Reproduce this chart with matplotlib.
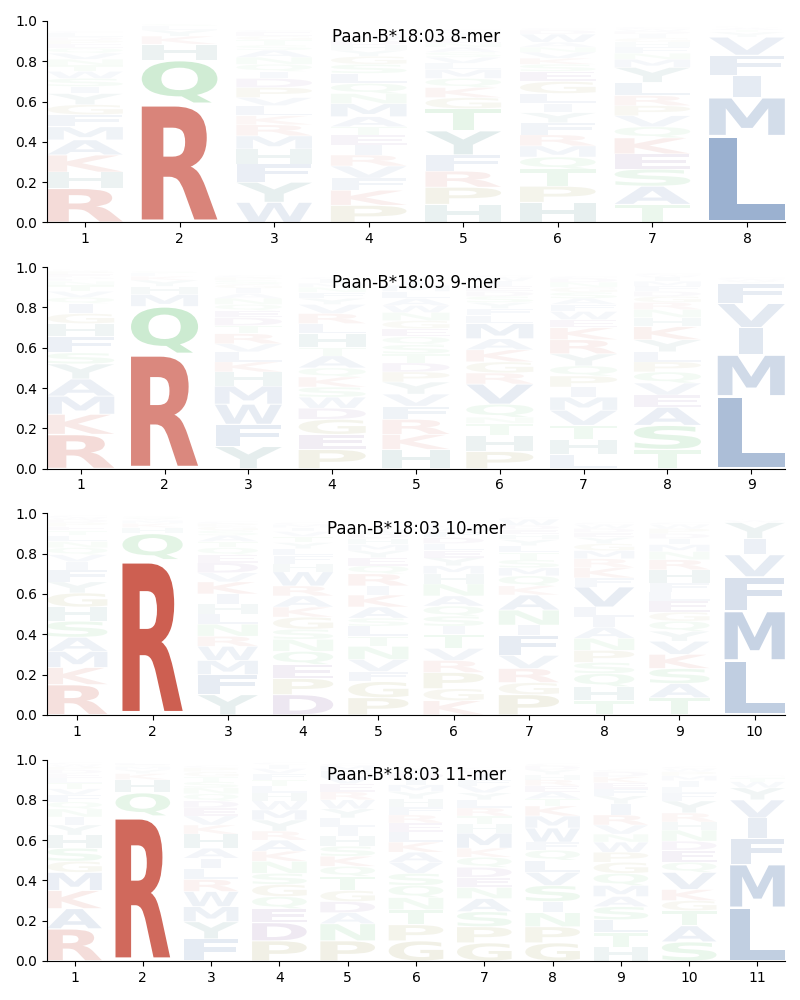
import matplotlib
matplotlib.use("Agg")
import matplotlib.pyplot as plt
from matplotlib.textpath import TextPath
from matplotlib.patches import PathPatch
from matplotlib.font_manager import FontProperties
from matplotlib.transforms import Affine2D

# letters per column (bottom to top) and their heights
letters_8mer = ["RHKAMFGYISWTNVQEPDLC", "RQHKYLS", "WYFHMRKLVPDIQNASTGEC",
                "PKFVRIETAMNQLSGYHDWC", "HPRFYTGKQMLVSANEDIWC", "HPTQMRFYILGESKVNAWDC",
                "TASEKQVPRLYMNFHGIDWC", "LMIFVYTAWC"]
probs_8mer = [
    [.17, .08, .085, .075, .065, .06, .05, .055, .035, .04, .035, .03, .03, .03, .025, .02, .02, .015, .02, .01],
    [.59, .215, .08, .04, .03, .02, .01],
    [.10, .10, .09, .075, .065, .055, .045, .05, .04, .05, .045, .035, .035, .035, .035, .025, .025, .02, .02, .01],
    [.085, .075, .06, .06, .055, .05, .05, .04, .05, .065, .05, .05, .05, .045, .04, .03, .025, .025, .02, .01],
    [.09, .085, .08, .08, .12, .11, .055, .05, .045, .045, .03, .03, .025, .025, .02, .02, .015, .015, .01, .01],
    [.10, .08, .085, .06, .055, .055, .06, .05, .045, .05, .06, .05, .035, .03, .03, .025, .025, .04, .02, .01],
    [.09, .09, .085, .075, .08, .055, .055, .05, .05, .065, .075, .04, .03, .03, .025, .02, .02, .015, .01, .01],
    [.43, .19, .11, .10, .09, .025, .01, .01, .005, .005],
]

letters_9mer = ["RKMAYSFHGIQVTNLDEPWC", "RQMHYKLS", "YFWMHKLVRTDEQNAIGSPC",
                "PEGDWSKQATHLRVYFNMIC", "HKRFVYPDTSQEGNWALMIC", "PHTNQVRGKAMLFYSDEIWC",
                "LHTVMIPQYRKEWFASGNDC", "TSAEVQPLYKHNRGDFMIWC", "LMIVFYWC"]
probs_9mer = [
    [.17, .10, .09, .085, .075, .055, .08, .065, .05, .05, .03, .03, .03, .02, .01, .01, .015, .015, .005, .005],
    [.57, .235, .06, .04, .03, .02, .015, .01],
    [.11, .11, .10, .09, .07, .05, .05, .04, .05, .04, .04, .035, .03, .03, .025, .025, .02, .02, .015, .01],
    [.095, .075, .075, .055, .055, .05, .05, .045, .06, .04, .07, .05, .05, .045, .03, .03, .025, .02, .02, .01],
    [.095, .075, .075, .065, .06, .06, .05, .045, .045, .045, .04, .04, .04, .04, .035, .035, .035, .03, .025, .01],
    [.085, .08, .06, .03, .065, .10, .055, .055, .06, .055, .075, .04, .035, .03, .03, .025, .025, .025, .02, .01],
    [.07, .075, .07, .075, .065, .05, .055, .05, .06, .07, .06, .04, .04, .035, .03, .03, .025, .025, .02, .01],
    [.095, .12, .09, .06, .06, .055, .05, .05, .06, .065, .045, .04, .035, .03, .025, .025, .025, .02, .01, .01],
    [.36, .205, .135, .12, .10, .01, .01, .01],
]

letters_10mer = ["RKMASHGYFIVQNLTEPDWC", "RQHKMYS", "YFMWRNLHIKVDEQTASGPC",
                 "DPEQNSGKARWHFLYTVIMC", "PGFVNTLSAKIRQEYMHDWC", "KGPRVTISQANHMYELDFWC",
                 "PGRVFINAKQMSTLYHEDWC", "THQSPNAILVFKRMGYEDWC", "TASKVYQGELFHRNMIDPWC",
                 "LMFVIYWC"]
probs_10mer = [
    [.15, .085, .08, .07, .08, .07, .07, .055, .06, .04, .035, .035, .03, .03, .025, .02, .02, .015, .01, .01],
    [.77, .13, .03, .02, .015, .01, .01],
    [.10, .10, .07, .07, .05, .06, .05, .05, .05, .06, .045, .05, .04, .035, .03, .03, .025, .02, .015, .01],
    [.10, .08, .07, .065, .06, .05, .06, .05, .055, .05, .07, .04, .04, .035, .03, .03, .025, .02, .015, .01],
    [.085, .08, .05, .06, .065, .05, .05, .04, .055, .06, .045, .06, .04, .04, .035, .03, .03, .025, .02, .01],
    [.07, .06, .08, .06, .06, .07, .04, .05, .05, .05, .06, .05, .04, .04, .035, .035, .03, .03, .02, .01],
    [.10, .06, .07, .065, .10, .05, .075, .075, .045, .05, .04, .04, .035, .035, .03, .025, .025, .02, .03, .01],
    [.07, .07, .065, .055, .06, .06, .055, .05, .05, .10, .045, .05, .045, .04, .035, .03, .025, .02, .02, .01],
    [.085, .07, .075, .07, .065, .05, .05, .045, .055, .045, .045, .065, .05, .04, .035, .03, .025, .025, .02, .01],
    [.27, .245, .17, .11, .08, .08, .01, .005],
]

letters_11mer = ["RAKMGSHYINQFVTLEDPWC", "RQHKYMSL", "FYMWRLIAHKVEDQNSTGPC",
                 "PDEQGSNKARYMWHLTFVIC", "PNADGTQKSHILYWREVFMC", "GPTNQSVAKLERFHYMIDWC",
                 "GPSANEDQKMHTRLYVFIWC", "GPNISVLQFWMKTAERHYDC", "HTLSAMQGPWNVRIYFEKDC",
                 "SATGKVQEDNHRYFLIMPWC", "LMFIVYWTC"]
probs_11mer = [
    [.16, .10, .09, .09, .055, .065, .065, .05, .04, .04, .035, .035, .03, .03, .025, .02, .02, .015, .01, .01],
    [.72, .115, .065, .03, .02, .015, .01, .01],
    [.11, .085, .075, .075, .06, .055, .05, .05, .07, .045, .045, .04, .035, .035, .03, .03, .025, .025, .02, .01],
    [.10, .09, .07, .06, .06, .055, .06, .05, .055, .045, .055, .05, .045, .04, .035, .03, .03, .025, .02, .01],
    [.10, .085, .055, .055, .055, .07, .05, .05, .05, .05, .045, .045, .045, .045, .04, .04, .035, .03, .025, .01],
    [.10, .08, .075, .06, .06, .06, .055, .05, .05, .05, .045, .04, .04, .04, .035, .035, .03, .03, .02, .01],
    [.09, .08, .075, .065, .055, .05, .05, .05, .045, .075, .045, .04, .04, .04, .035, .035, .03, .03, .02, .01],
    [.09, .08, .07, .055, .08, .065, .06, .05, .04, .07, .06, .05, .035, .035, .03, .03, .025, .025, .02, .01],
    [.07, .07, .065, .065, .05, .055, .06, .055, .05, .05, .04, .045, .05, .055, .04, .035, .03, .03, .025, .01],
    [.095, .08, .075, .05, .055, .085, .05, .06, .045, .055, .04, .045, .06, .04, .03, .03, .025, .02, .015, .01],
    [.265, .215, .13, .10, .09, .06, .03, .02, .01],
]

titles = ["Paan-B*18:03 8-mer", "Paan-B*18:03 9-mer", "Paan-B*18:03 10-mer", "Paan-B*18:03 11-mer"]

# colour groups
red = '#bf2f1d'
blue = '#194b92'
teal = '#146464'
green = '#28aa3c'
purple = '#501478'
olive = '#78730a'
aa_colors = {}
for aa in "KR":
    aa_colors[aa] = red
for aa in "AILMFWVC":
    aa_colors[aa] = blue
for aa in "HY":
    aa_colors[aa] = teal
for aa in "NQST":
    aa_colors[aa] = green
for aa in "DE":
    aa_colors[aa] = purple
for aa in "GP":
    aa_colors[aa] = olive

fp = FontProperties(family='DejaVu Sans', weight='bold')
# narrow letters are not stretched wider than an 'E' would be
e_width = TextPath((0, 0), 'E', size=1, prop=fp).get_extents().width


def draw_letter(ax, ch, x, y0, h, color, alpha, width=0.8, vpad=0.05):
    tp = TextPath((0, 0), ch, size=1, prop=fp)
    ext = tp.get_extents()
    hstretch = min(width / ext.width, width / e_width)
    w = ext.width * hstretch
    pad = h * vpad / 2
    hh = h - 2 * pad
    t = (Affine2D().translate(-ext.x0, -ext.y0)
         .scale(hstretch, hh / ext.height)
         .translate(x - w / 2, y0 + pad))
    ax.add_patch(PathPatch(t.transform_path(tp), facecolor=color,
                           edgecolor='none', alpha=alpha))


def draw_logo(ax, letters, probs, title):
    for i, (col_letters, col_probs) in enumerate(zip(letters, probs)):
        pos = i + 1
        y = 0
        for ch, p in zip(col_letters, col_probs):
            draw_letter(ax, ch, pos, y, p, aa_colors[ch], min(p, 1.0))
            y += p
    n = len(letters)
    ax.set_xlim(0.6, n + 0.4)
    ax.set_ylim(0, 1)
    ax.set_xticks(range(1, n + 1))
    ax.set_yticks([0, 0.2, 0.4, 0.6, 0.8, 1.0])
    ax.spines['top'].set_visible(False)
    ax.spines['right'].set_visible(False)
    ax.text(0.5, 0.923, title, transform=ax.transAxes, ha='center', va='center', fontsize=12)


fig, axes = plt.subplots(4, 1, figsize=(8, 10), dpi=100)
plt.subplots_adjust(left=0.059, right=0.981, top=0.979, bottom=0.039, hspace=0.222)

draw_logo(axes[0], letters_8mer, probs_8mer, titles[0])
draw_logo(axes[1], letters_9mer, probs_9mer, titles[1])
draw_logo(axes[2], letters_10mer, probs_10mer, titles[2])
draw_logo(axes[3], letters_11mer, probs_11mer, titles[3])

plt.savefig("out.png")
